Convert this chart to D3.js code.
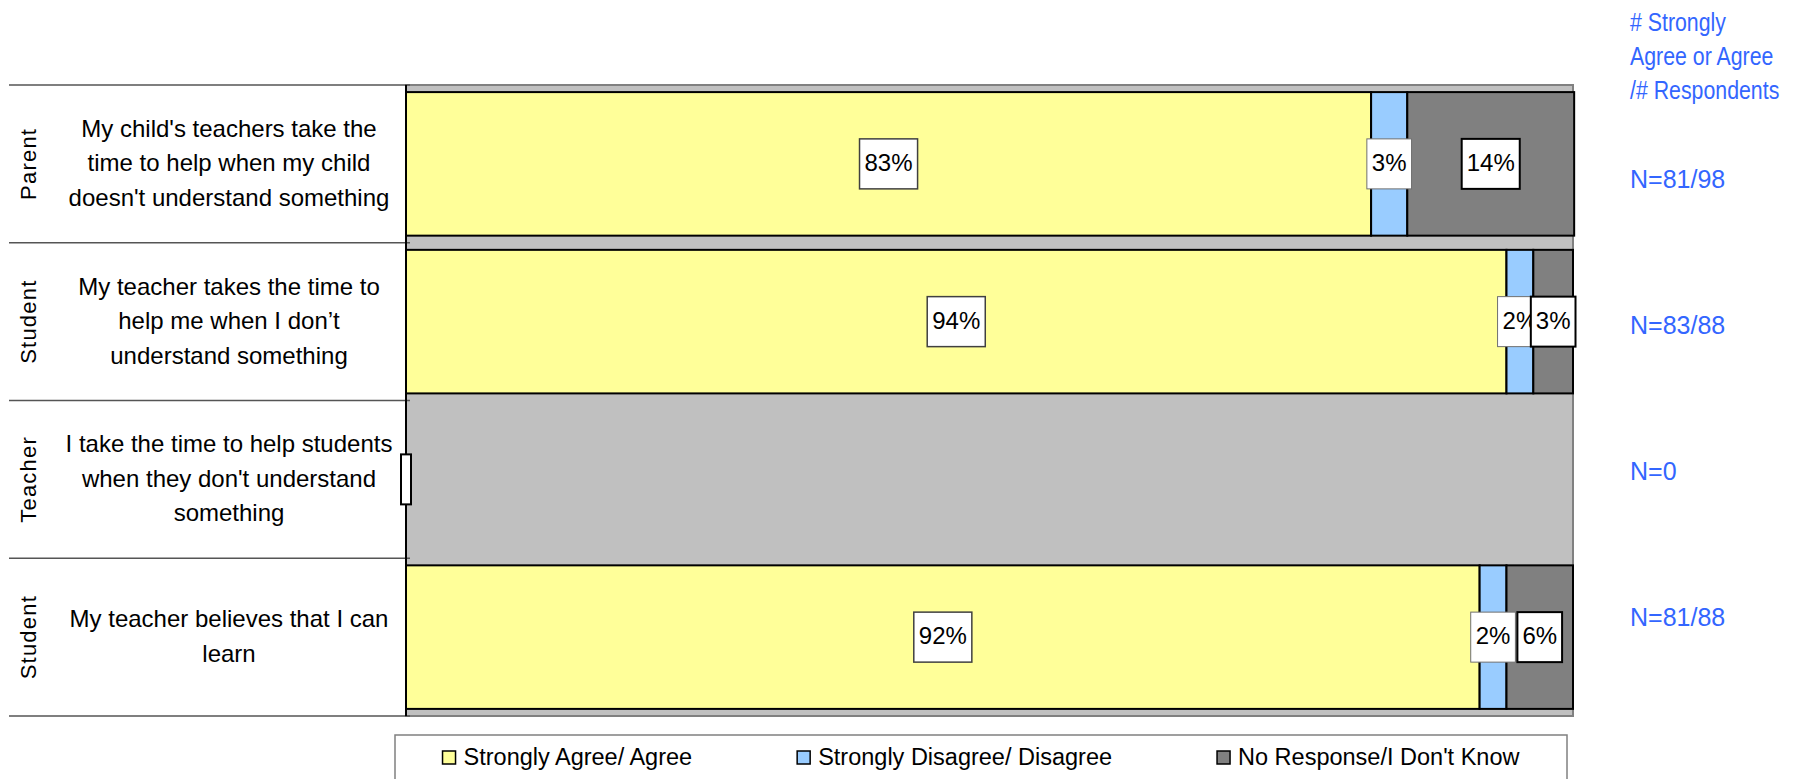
<!DOCTYPE html>
<html>
<head>
<meta charset="utf-8">
<script src="https://cdn.jsdelivr.net/npm/d3@7"></script>
<style>
  body { margin: 0; background: #fff; }
  svg { display: block; }
</style>
</head>
<body>
<div id="chart"></div>
<script>
// rows, top to bottom
var roles = ["Parent", "Student", "Teacher", "Student"];
var questions = [
  ["My child's teachers take the", "time to help when my child", "doesn't understand something"],
  ["My teacher takes the time to", "help me when I don\u2019t", "understand something"],
  ["I take the time to help students", "when they don't understand", "something"],
  ["My teacher believes that I can", "learn"]
];
// percent of respondents
var agree      = [82.7, 94.3, 0, 92.0];
var disagree   = [3.1, 2.3, 0, 2.3];
var noResponse = [14.3, 3.4, 0, 5.7];
var nLabels = ["N=81/98", "N=83/88", "N=0", "N=81/88"];
var headerLines = ["# Strongly", "Agree or Agree", "/# Respondents"];
var seriesNames = ["Strongly Agree/ Agree", "Strongly Disagree/ Disagree", "No Response/I Don't Know"];
var seriesColors = ["#ffff99", "#99ccff", "#808080"];

var W = 1799, H = 779;
var sans = "'Liberation Sans', Arial, sans-serif";
var blue = "#3366ff";

var rows = roles.map(function(r, i) {
  return { i: i, agree: agree[i], disagree: disagree[i], noResponse: noResponse[i] };
});
var keys = ["agree", "disagree", "noResponse"];

var svg = d3.select("#chart").append("svg")
  .attr("width", W).attr("height", H);

var x = d3.scaleLinear().domain([0, 100]).range([406, 1573]);
var y = d3.scaleBand().domain(d3.range(rows.length))
  .range([85, 716]).paddingInner(0.09).paddingOuter(0.045);

// plot background
svg.append("rect")
  .attr("x", x(0)).attr("y", 85)
  .attr("width", x(100) - x(0)).attr("height", 716 - 85)
  .attr("fill", "#c0c0c0").attr("stroke", "#808080").attr("stroke-width", 2);

// row separators on the left side
var y0 = y.range()[0];
svg.append("g").selectAll("line")
  .data(d3.range(rows.length + 1))
  .enter().append("line")
  .attr("x1", 9).attr("x2", x(0) + 4)
  .attr("y1", function(d) { return y0 + d * y.step(); })
  .attr("y2", function(d) { return y0 + d * y.step(); })
  .attr("stroke", "#555").attr("stroke-width", 1.5);

// stacked bars
var stacked = d3.stack().keys(keys)(rows);
var layers = svg.append("g").selectAll("g")
  .data(stacked)
  .enter().append("g")
  .attr("fill", function(d, k) { return seriesColors[k]; });

layers.selectAll("rect")
  .data(function(d) { return d.filter(function(s) { return s[1] - s[0] > 0; }); })
  .enter().append("rect")
  .attr("x", function(s) { return x(s[0]); })
  .attr("y", function(s) { return y(s.data.i); })
  .attr("width", function(s) { return x(s[1]) - x(s[0]); })
  .attr("height", y.bandwidth())
  .attr("stroke", "#000").attr("stroke-width", 2);

// value axis line
svg.append("line")
  .attr("x1", x(0)).attr("x2", x(0)).attr("y1", 85).attr("y2", 716)
  .attr("stroke", "#000").attr("stroke-width", 2);

// data labels in boxes
var labelStroke = [{ c: "#404040", w: 1.5 }, { c: "#707070", w: 1 }, { c: "#000", w: 2 }];
var labelG = svg.append("g");
stacked.forEach(function(layer, k) {
  layer.forEach(function(s) {
    var v = s[1] - s[0];
    var empty = s.data.agree + s.data.disagree + s.data.noResponse === 0;
    if (v <= 0 && !(empty && k === keys.length - 1)) return;
    var cx = x((s[0] + s[1]) / 2), cy = y(s.data.i) + y.bandwidth() / 2;
    var g = labelG.append("g");
    var box = g.append("rect").attr("fill", "#fff")
      .attr("stroke", labelStroke[k].c).attr("stroke-width", labelStroke[k].w);
    var t = g.append("text")
      .attr("x", cx).attr("y", cy + 7)
      .attr("text-anchor", "middle")
      .style("font-family", sans).style("font-size", "24px").attr("fill", "#000")
      .text(v > 0 ? Math.round(v) + "%" : "");
    var tw = v > 0 ? t.node().getComputedTextLength() : 0;
    box.attr("x", cx - tw / 2 - 5).attr("y", cy - 25)
      .attr("width", tw + 10).attr("height", 50);
  });
});

// role labels (rotated)
svg.append("g").selectAll("text")
  .data(roles)
  .enter().append("text")
  .attr("transform", function(d, i) {
    return "translate(36," + (y(i) + y.bandwidth() / 2) + ") rotate(-90)";
  })
  .attr("text-anchor", "middle")
  .style("font-family", sans).style("font-size", "22px").style("letter-spacing", "1.2px")
  .attr("fill", "#000")
  .text(function(d) { return d; });

// question text
var qG = svg.append("g");
questions.forEach(function(lines, i) {
  var cy = y(i) + y.bandwidth() / 2;
  var n = lines.length;
  qG.append("text")
    .attr("text-anchor", "middle")
    .style("font-family", sans).style("font-size", "24px").attr("fill", "#000")
    .selectAll("tspan").data(lines).enter().append("tspan")
    .attr("x", 229)
    .attr("y", function(d, k) { return cy + (k - (n - 1) / 2) * 34.5 + 7.5; })
    .text(function(d) { return d; });
});

// right-hand header (condensed) and N counts
svg.append("text")
  .attr("transform", "translate(1630,0) scale(0.82,1)")
  .style("font-family", sans).style("font-size", "26px").attr("fill", blue)
  .selectAll("tspan").data(headerLines).enter().append("tspan")
  .attr("x", 0)
  .attr("y", function(d, k) { return 31 + k * 34; })
  .text(function(d) { return d; });

var nY = d3.scalePoint().domain(d3.range(rows.length)).range([188, 626]);
svg.append("g").selectAll("text")
  .data(nLabels)
  .enter().append("text")
  .attr("x", 1630)
  .attr("y", function(d, i) { return nY(i); })
  .style("font-family", sans).style("font-size", "25px").attr("fill", blue)
  .text(function(d) { return d; });

// legend
var legend = svg.append("g");
legend.append("rect")
  .attr("x", 395).attr("y", 735).attr("width", 1567 - 395).attr("height", 70)
  .attr("fill", "#fff").attr("stroke", "#808080").attr("stroke-width", 1.5);

var items = legend.selectAll("g.item")
  .data(seriesNames)
  .enter().append("g").attr("class", "item");
items.append("rect")
  .attr("width", 13).attr("height", 13).attr("y", 751)
  .attr("fill", function(d, k) { return seriesColors[k]; })
  .attr("stroke", "#000").attr("stroke-width", 1.5);
items.append("text")
  .attr("y", 765)
  .style("font-family", sans).style("font-size", "23.5px").attr("fill", "#000")
  .text(function(d) { return d; });

var widths = [];
items.selectAll("text").each(function() { widths.push(21 + this.getComputedTextLength()); });
var gap = 105;
var total = d3.sum(widths) + gap * (widths.length - 1);
var lx = (395 + 1567) / 2 - total / 2;
items.each(function(d, k) {
  d3.select(this).select("rect").attr("x", lx);
  d3.select(this).select("text").attr("x", lx + 21);
  lx += widths[k] + gap;
});
</script>
</body>
</html>
